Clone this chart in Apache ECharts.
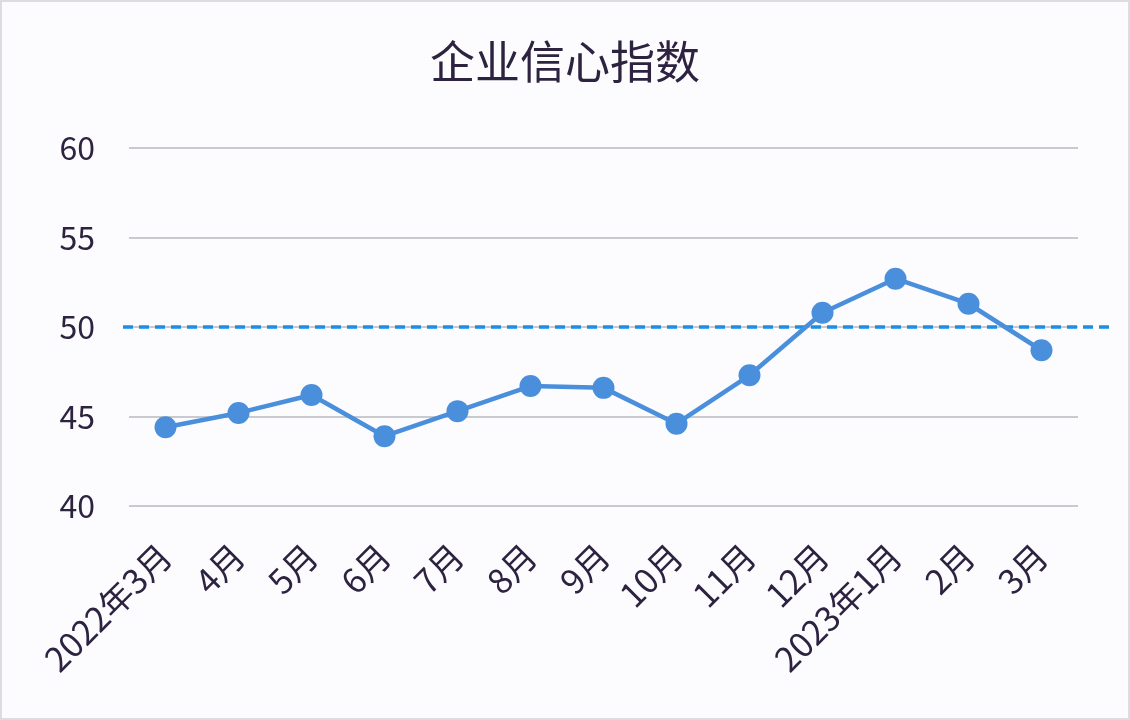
<!DOCTYPE html>
<html>
<head>
<meta charset="utf-8">
<title>企业信心指数</title>
<script src="https://cdn.jsdelivr.net/npm/echarts@6/dist/echarts.min.js"></script>
<style>
    html, body { margin: 0; padding: 0; background: #fff; }
    #chart {
        width: 1130px; height: 720px; box-sizing: border-box;
        border: 2px solid #dcdce2; background: #fcfcfe;
    }
</style>
</head>
<body>
<div id="chart"></div>
<script>
// 企业信心指数 2022.3 - 2023.3
const months = ['2022年3月', '4月', '5月', '6月', '7月', '8月', '9月',
                '10月', '11月', '12月', '2023年1月', '2月', '3月'];
const indexValues = [44.4, 45.2, 46.2, 43.9, 45.3, 46.7, 46.6,
                     44.6, 47.3, 50.8, 52.7, 51.3, 48.7];
const yTicks = [40, 45, 50, 55, 60];
const baseline = 50;

const fontCJK = '"Noto Sans CJK SC", "Noto Sans", sans-serif';
const textColor = '#2d2340';

const chart = echarts.init(document.getElementById('chart'));

chart.setOption({
    animation: false,
    title: {
        text: '企业信心指数',
        left: 'center', top: 32,
        textStyle: { fontFamily: fontCJK, fontSize: 45, fontWeight: 'normal', color: textColor },
    },
    grid: [
        { left: 127, right: 50, top: 146, bottom: 212 },
        { left: 121, right: 19, top: 146, bottom: 212 },
    ],
    xAxis: [
        {
            type: 'category', data: months, gridIndex: 0,
            boundaryGap: true,
            axisLine: { show: false },
            axisTick: { show: false },
            axisLabel: {
                rotate: 45, margin: 44, interval: 0,
                fontFamily: fontCJK, fontSize: 34, color: textColor,
            },
        },
        { type: 'value', gridIndex: 1, min: 0, max: 1, show: false },
    ],
    yAxis: [
        {
            type: 'value', gridIndex: 0,
            min: yTicks[0], max: yTicks[yTicks.length - 1], interval: 5,
            axisLine: { show: false },
            axisTick: { show: false },
            axisLabel: { margin: 34, fontFamily: fontCJK, fontSize: 32, color: textColor },
            splitLine: { lineStyle: { color: '#b9b9c0', width: 1.5 } },
        },
        { type: 'value', gridIndex: 1, min: yTicks[0], max: yTicks[yTicks.length - 1], show: false },
    ],
    series: [
        {
            type: 'line', xAxisIndex: 1, yAxisIndex: 1,
            data: [[0, baseline], [1, baseline]],
            symbol: 'none', silent: true,
            lineStyle: { color: '#1a8fe3', width: 3.5, type: [10, 6] },
            z: 1,
        },
        {
            type: 'line', data: indexValues,
            symbol: 'circle', symbolSize: 22,
            itemStyle: { color: '#4a8fdb' },
            lineStyle: { color: '#4a8fdb', width: 4.5 },
            z: 3,
        },
    ],
});
</script>
</body>
</html>
